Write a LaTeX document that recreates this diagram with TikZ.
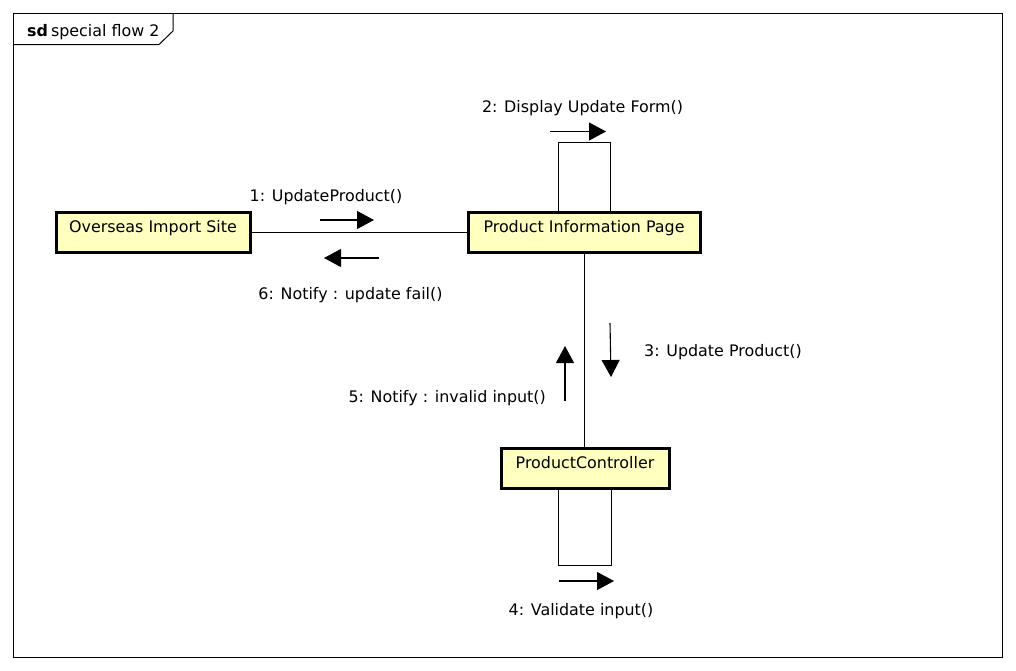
\documentclass[tikz,border=0pt]{standalone}
\usepackage{fontspec}
\setmainfont{DejaVu Sans}
\usetikzlibrary{arrows.meta}
\definecolor{objfill}{HTML}{FFFFC0}
\begin{document}
\begin{tikzpicture}[x=1pt,y=-1pt,
  font=\fontsize{15.9}{18}\selectfont,
  obj/.style={draw, line width=3pt, fill=objfill, inner sep=0pt,
    minimum height=40pt, text height=6pt, text depth=6pt},
  conn/.style={line width=1pt},
  msg/.style={line width=1.1pt, -{Triangle[length=17pt,width=18pt]}},
  lbl/.style={anchor=base, inner sep=0pt}]
\useasboundingbox[fill=white] (0,0) rectangle (1016,670);
% frame
\draw[conn] (13,13) rectangle (1002,657);
\draw[conn] (173,13) -- (173,31) -- (159,44.5) -- (13,44.5);
\node[lbl, anchor=base west] (title) at (27,36) {\textbf{sd}\kern3pt special flow 2};
% objects
\node[obj, minimum width=194pt] (ois) at (153,232) {Overseas Import Site};
\node[obj, minimum width=232pt] (pip) at (584,232) {Product Information Page};
\node[obj, minimum width=168pt] (pc) at (585,468) {ProductController};
% links
\draw[conn] (ois.east) -- (pip.west);
\draw[conn] (pip.south) -- (pip.south |- pc.north);
\coordinate (pl) at (558,142);
\coordinate (pr) at (610,142);
\draw[conn] (pl |- pip.north) -- (pl) -- (pr) -- (pr |- pip.north);
\coordinate (cl) at (558,565);
\coordinate (cr) at (611,565);
\draw[conn] (cl |- pc.south) -- (cl) -- (cr) -- (cr |- pc.south);
% messages
\coordinate (m1s) at (320,220); \coordinate (m1e) at (374,220);
\coordinate (m6s) at (379,258); \coordinate (m6e) at (324,258);
\coordinate (m2s) at (550,131.5); \coordinate (m2e) at (606,131.5);
\coordinate (m3s) at (610,323); \coordinate (m3e) at (611,377);
\coordinate (m5s) at (565,401); \coordinate (m5e) at (565,346);
\coordinate (m4s) at (559,581); \coordinate (m4e) at (614,581);
\draw[msg] (m1s) -- (m1e);
\draw[msg] (m6s) -- (m6e);
\draw[msg] (m2s) -- (m2e);
\draw[msg] (m3s) -- (m3e);
\draw[msg] (m5s) -- (m5e);
\draw[msg] (m4s) -- (m4e);
% labels
\node[lbl] (t1) at (326,201) {1: UpdateProduct()};
\node[lbl] (t6) at (350.5,299) {6: Notify : update fail()};
\node[lbl] (t2) at (582.5,112) {2: Display Update Form()};
\node[lbl] (t4) at (581,615) {4: Validate input()};
\node[lbl, anchor=base west] (t3) at (644,356) {3: Update Product()};
\node[lbl, anchor=base east] (t5) at (546,402) {5: Notify : invalid input()};
\end{tikzpicture}
\end{document}
